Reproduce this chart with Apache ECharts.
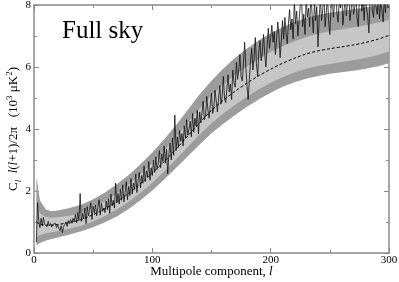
<!DOCTYPE html>
<html>
<head>
<meta charset="utf-8">
<script src="https://cdn.jsdelivr.net/npm/echarts@6/dist/echarts.min.js"></script>
<style>html,body{margin:0;padding:0;background:#fff}#c{width:399px;height:282px}</style>
</head>
<body>
<div id="c"></div>
<script>
// Multipole sample points for the model and its bands
const bandL = [2,5,10,15,20,30,40,50,60,70,80,90,100,110,120,130,140,150,160,170,180,190,200,210,220,230,240,250,260,270,280,290,300];
// model mean (dashed)
const modelMean = [1.0,0.93,0.9,0.9,0.92,0.98,1.08,1.24,1.43,1.66,1.93,2.24,2.58,2.95,3.35,3.78,4.2,4.6,4.93,5.22,5.48,5.72,5.93,6.12,6.28,6.42,6.52,6.59,6.65,6.71,6.79,6.89,7.02];
// outer (dark grey) band
const outerLow  = [0.26,0.32,0.4,0.45,0.5,0.6,0.7,0.83,0.99,1.18,1.42,1.7,2.02,2.37,2.74,3.12,3.5,3.86,4.17,4.45,4.72,4.96,5.17,5.36,5.51,5.62,5.71,5.78,5.83,5.88,5.94,6.02,6.12];
const outerHigh = [2.46,1.7,1.4,1.35,1.37,1.45,1.56,1.73,1.95,2.22,2.52,2.86,3.24,3.67,4.12,4.62,5.12,5.56,5.95,6.3,6.6,6.86,7.08,7.28,7.45,7.58,7.68,7.75,7.81,7.86,7.92,7.98,8.05];
// inner (light grey) band
const innerLow  = [0.5,0.58,0.64,0.67,0.7,0.78,0.88,1.02,1.19,1.4,1.65,1.94,2.27,2.63,3.02,3.42,3.82,4.18,4.5,4.78,5.04,5.28,5.49,5.67,5.82,5.94,6.03,6.1,6.16,6.22,6.29,6.38,6.5];
const innerHigh = [1.55,1.28,1.16,1.14,1.15,1.2,1.3,1.46,1.67,1.92,2.21,2.54,2.9,3.3,3.74,4.2,4.66,5.08,5.44,5.75,6.02,6.27,6.48,6.67,6.83,6.97,7.07,7.15,7.22,7.28,7.35,7.43,7.52];
// measured spectrum, l = 2 ... 300
const dataStartL = 2;
const dataVals = [
0.35,1.62,1.05,0.82,1.12,0.88,1.15,0.92,0.98,0.85,
1.02,0.88,0.95,0.84,0.92,0.86,0.96,0.82,0.9,0.8,
0.72,0.88,0.66,0.85,0.92,1.0,0.86,1.05,0.95,1.08,
0.96,1.12,1.0,1.25,0.98,1.3,1.05,1.92,1.02,1.28,
1.1,1.45,0.95,1.5,1.2,1.38,1.62,1.08,1.5,1.3,
1.55,1.2,1.48,1.72,1.22,1.6,1.35,1.45,1.3,1.68,
1.4,1.75,1.28,1.9,1.52,1.7,1.45,2.25,1.62,1.92,
1.58,2.05,1.7,2.2,1.65,1.95,2.3,1.72,2.15,1.85,
2.4,1.9,2.25,2.05,2.55,1.95,2.35,2.6,2.1,2.5,
2.25,2.8,2.3,2.65,2.45,2.95,2.35,2.75,2.5,3.0,
2.6,3.1,2.7,2.9,3.3,2.75,3.2,2.95,3.45,2.9,
3.35,2.55,3.2,3.55,3.0,3.7,3.15,4.45,3.3,3.75,
3.4,3.95,3.6,3.85,3.45,4.1,3.7,4.3,3.8,4.0,
4.25,3.75,4.5,3.9,4.35,4.1,4.6,3.85,4.55,4.2,
4.55,4.9,4.3,4.45,5.05,4.6,4.35,4.8,5.15,4.5,
4.7,5.25,4.9,4.55,5.0,5.4,4.8,5.05,5.7,5.0,
4.85,5.3,5.75,5.2,5.45,4.95,5.9,5.5,5.35,6.15,
5.6,5.9,6.4,5.7,5.55,6.1,6.8,6.0,5.4,4.95,
5.6,6.2,6.6,5.9,6.3,6.95,6.1,5.7,6.5,6.85,
6.2,6.5,7.05,6.4,6.0,6.7,7.25,6.6,6.95,7.35,
6.8,7.15,6.4,6.9,7.45,7.0,6.3,6.85,7.5,6.9,
7.6,7.1,6.75,7.4,7.85,7.2,7.55,6.9,8.15,7.4,
7.8,7.0,7.5,8.0,8.3,7.3,7.7,7.05,8.2,7.6,
7.9,7.3,8.4,7.7,7.1,8.1,7.5,7.95,6.65,7.6,
8.2,7.5,7.85,8.4,7.3,7.75,8.3,7.45,7.05,7.9,
8.3,7.6,8.1,8.6,7.7,7.45,8.2,7.9,8.5,7.35,
7.8,8.3,7.65,8.1,8.55,7.5,7.85,8.4,7.7,7.9,
8.45,7.6,7.3,8.2,8.6,7.8,8.15,7.5,8.3,7.9,
7.65,7.1,8.2,8.5,7.8,7.6,8.4,7.95,7.7,8.3,
7.55,8.1,7.85,7.45,8.2,7.75,8.5,7.9,7.95
];
const xTicks = [0,100,200,300];
const yTicks = [0,2,4,6,8];
const panelLabel = 'Full sky';

const serif = "'Liberation Serif','Times New Roman',serif";
const axisGrey = '#8a8a8a';
const pairs = (xs, ys) => xs.map((x, i) => [x, ys[i]]);
const dataPairs = dataVals.map((v, i) => [dataStartL + i, v]);

function bandRenderer(low, high, color) {
  return function (params, api) {
    const pts = [];
    for (let i = 0; i < bandL.length; i++) pts.push(api.coord([bandL[i], high[i]]));
    for (let i = bandL.length - 1; i >= 0; i--) pts.push(api.coord([bandL[i], low[i]]));
    const cs = params.coordSys;
    return {
      type: 'polygon',
      shape: { points: pts },
      style: { fill: color, stroke: null },
      clipPath: { type: 'rect', shape: { x: cs.x, y: cs.y, width: cs.width, height: cs.height } }
    };
  };
}

const baseAxis = {
  axisLine: { show: true, onZero: false, lineStyle: { color: axisGrey, width: 1.5 } },
  axisTick: { show: true, inside: true, length: 5, lineStyle: { color: axisGrey, width: 1 } },
  minorTick: { show: true, splitNumber: 2, length: 3, lineStyle: { color: axisGrey, width: 1 } },
  splitLine: { show: false },
  minorSplitLine: { show: false }
};

const chart = echarts.init(document.getElementById('c'), null, { renderer: 'canvas' });
chart.setOption({
  animation: false,
  backgroundColor: '#fff',
  grid: { left: 34, right: 10, top: 5, bottom: 29, containLabel: false, outerBoundsMode: 'none' },
  xAxis: [
    Object.assign({}, baseAxis, {
      type: 'value', min: xTicks[0], max: xTicks[xTicks.length - 1], interval: 100, position: 'bottom',
      axisLabel: { color: '#000', fontFamily: serif, fontSize: 11, margin: 2 },
      name: '{n|Multipole component, }{it|l}',
      nameLocation: 'middle', nameGap: 12, nameMoveOverlap: false,
      nameTextStyle: { rich: { n: { fontFamily: serif, fontSize: 13, color: '#000' }, it: { fontFamily: serif, fontSize: 13, fontStyle: 'italic', color: '#000' } } }
    }),
    Object.assign({}, baseAxis, {
      type: 'value', min: 0, max: 300, interval: 100, position: 'top', axisLabel: { show: false }
    })
  ],
  yAxis: [
    Object.assign({}, baseAxis, {
      type: 'value', min: yTicks[0], max: yTicks[yTicks.length - 1], interval: 2, position: 'left',
      axisLabel: { color: '#000', fontFamily: serif, fontSize: 11, margin: 3 },
      name: '{n|C}{sub|l}{n|  }{it|l}{n|(}{it|l}{n|+1)/2π   (10}{sup|3}{n| μK}{sup|2}{n|)}',
      nameLocation: 'middle', nameGap: 11, nameRotate: 90, nameMoveOverlap: false,
      nameTextStyle: {
        rich: {
          n: { fontFamily: serif, fontSize: 13, color: '#000', lineHeight: 18 },
          it: { fontFamily: serif, fontSize: 13, fontStyle: 'italic', color: '#000', lineHeight: 18 },
          sub: { fontFamily: serif, fontSize: 9, fontStyle: 'italic', color: '#000', verticalAlign: 'bottom', lineHeight: 18 },
          sup: { fontFamily: serif, fontSize: 9, color: '#000', verticalAlign: 'top', lineHeight: 18 }
        }
      }
    }),
    Object.assign({}, baseAxis, {
      type: 'value', min: 0, max: 8, interval: 2, position: 'right', axisLabel: { show: false }
    })
  ],
  graphic: [{
    type: 'text', left: 62, top: 19, z: 10,
    style: { text: panelLabel, font: '25px ' + serif, fill: '#000' }
  }],
  series: [
    { type: 'custom', data: [[0, 0]], renderItem: bandRenderer(outerLow, outerHigh, '#9c9c9c'), silent: true, z: 1 },
    { type: 'custom', data: [[0, 0]], renderItem: bandRenderer(innerLow, innerHigh, '#c6c6c6'), silent: true, z: 2 },
    { type: 'line', data: pairs(bandL, modelMean), symbol: 'none', smooth: 0.3, lineStyle: { color: '#000', width: 1, type: [3, 2] }, z: 3 },
    { type: 'line', data: dataPairs, symbol: 'none', lineStyle: { color: '#111', width: 0.8 }, z: 4 }
  ]
});
</script>
</body>
</html>
